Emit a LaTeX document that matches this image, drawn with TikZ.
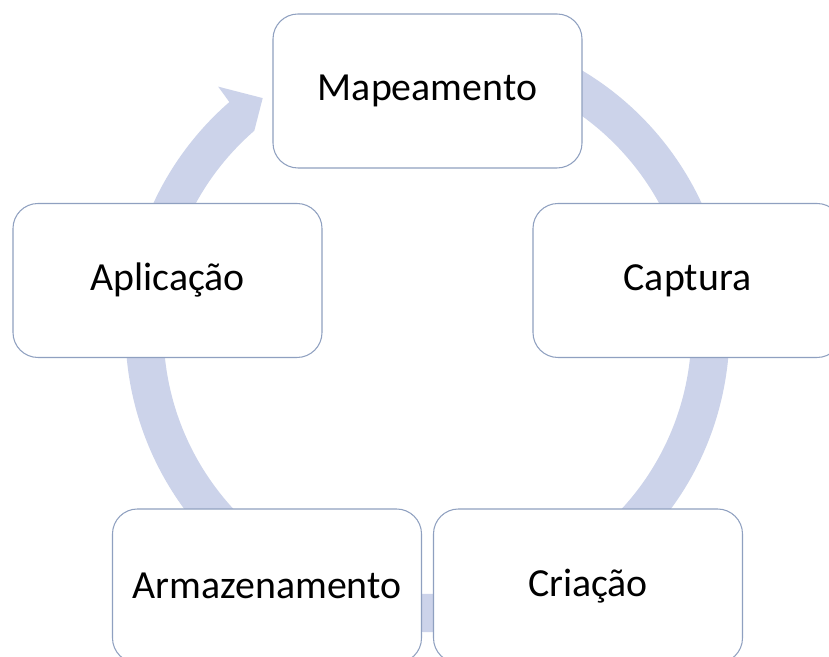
\documentclass[tikz,border=0pt]{standalone}
\usepackage{fontspec}
\setmainfont{Carlito}
\definecolor{ringblue}{RGB}{204,211,234}
\definecolor{boxline}{RGB}{143,160,192}
\tikzset{
  cyclebox/.style={draw=boxline, line width=0.9pt, fill=white, rounded corners=0.75cm,
    minimum width=9.27cm, minimum height=4.62cm, inner sep=0pt,
    font=\fontsize{34}{41}\selectfont, text=black},
  ring/.style={fill=ringblue, draw=none}
}
\begin{document}
\begin{tikzpicture}[x=0.03cm,y=0.03cm]
\useasboundingbox (0,0) rectangle (829,657);
\clip (0,0) rectangle (829,657);
\fill[white] (0,0) rectangle (829,657);
% circular arrow
\begin{scope}[shift={(427.5,327)}]
\fill[ring] (80:302) arc[start angle=80, end angle=-229, radius=302]
  -- (-229.3:321) -- (-234.6:284.5) -- (-229:264)
  arc[start angle=-229, end angle=80, radius=264] -- cycle;
\end{scope}
% boxes
\node[cyclebox] (map) at (427.5,566) {Mapeamento};
\node[cyclebox] (cap) at (687.5,376.5) {Captura};
\node[cyclebox] (apl) at (167.5,376.5) {Aplicação};
\node[cyclebox] (arm) at (267,71) {Armazenamento};
\node[cyclebox] (cri) at (588,71) {Criação};
\end{tikzpicture}
\end{document}
